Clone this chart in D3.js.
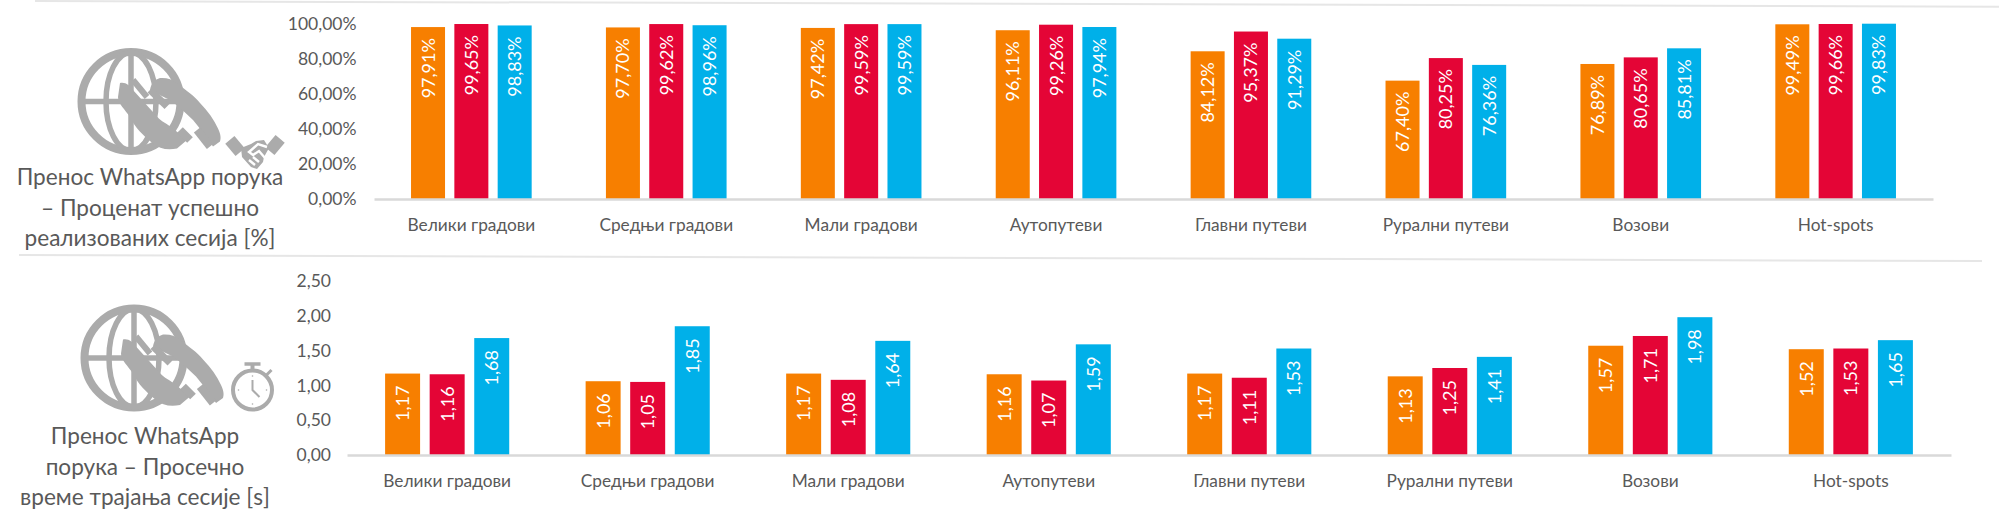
<!DOCTYPE html>
<html>
<head>
<meta charset="utf-8">
<script src="https://cdn.jsdelivr.net/npm/d3@7"></script>
<style>
  html, body { margin: 0; padding: 0; background: #fff; }
  svg { display: block; }
  text { font-family: Lato, "Open Sans", sans-serif; }
</style>
</head>
<body>
<div id="chart"></div>
<script>
const categories = ["Велики градови", "Средњи градови", "Мали градови", "Аутопутеви", "Главни путеви", "Рурални путеви", "Возови", "Hot-spots"];
const seriesNames = ["a", "b", "c"];
const seriesColors = ["#f77f00", "#e40536", "#00b0e9"];

// success rate [%]
const rateA = [97.91, 97.70, 97.42, 96.11, 84.12, 67.40, 76.89, 99.49];
const rateB = [99.65, 99.62, 99.59, 99.26, 95.37, 80.25, 80.65, 99.66];
const rateC = [98.83, 98.96, 99.59, 97.94, 91.29, 76.36, 85.81, 99.83];
const rateTicks = [0, 20, 40, 60, 80, 100];
const rateTitle = ["Пренос WhatsApp порука", "– Проценат успешно", "реализованих сесија [%]"];

// session duration [s]
const timeA = [1.17, 1.06, 1.17, 1.16, 1.17, 1.13, 1.57, 1.52];
const timeB = [1.16, 1.05, 1.08, 1.07, 1.11, 1.25, 1.71, 1.53];
const timeC = [1.68, 1.85, 1.64, 1.59, 1.53, 1.41, 1.98, 1.65];
const timeTicks = [0, 0.5, 1, 1.5, 2, 2.5];
const timeTitle = ["Пренос WhatsApp", "порука – Просечно", "време трајања сесије [s]"];

const width = 1999, height = 525;
const grey = "#595959", iconGrey = "#ababab", ruleGrey = "#e6e6e6";

const svg = d3.select("#chart").append("svg")
  .attr("width", width)
  .attr("height", height);

// comma as decimal separator
const comma = d3.formatLocale({ decimal: ",", thousands: ".", grouping: [3], currency: ["", ""] });
const fmt2 = comma.format(".2f");
const fmtPct = d => fmt2(d) + "%";

function drawPanel(cfg) {
  const x0 = d3.scaleBand().domain(categories).range([cfg.left, cfg.right]).paddingInner(0.381).paddingOuter(0.19);
  const x1 = d3.scaleBand().domain(seriesNames).range([0, x0.bandwidth()]).paddingInner(0.215);
  const y = d3.scaleLinear().domain([0, cfg.max]).range([cfg.bottom, cfg.top]);

  const yAxis = d3.axisLeft(y).tickValues(cfg.ticks).tickFormat(cfg.fmt).tickSize(0).tickPadding(0);
  svg.append("g")
    .attr("transform", `translate(${cfg.tickX},0)`)
    .call(yAxis)
    .call(g => g.select(".domain").remove())
    .selectAll("text")
    .attr("fill", grey)
    .attr("font-size", 17.5);

  cfg.values.forEach((vals, s) => {
    const group = svg.append("g").attr("fill", seriesColors[s]);
    group.selectAll("rect")
      .data(vals)
      .join("rect")
      .attr("x", (d, i) => x0(categories[i]) + x1(seriesNames[s]))
      .attr("y", d => y(d))
      .attr("width", x1.bandwidth())
      .attr("height", d => cfg.bottom - y(d));
    group.selectAll("text")
      .data(vals)
      .join("text")
      .attr("transform", (d, i) => `translate(${x0(categories[i]) + x1(seriesNames[s]) + x1.bandwidth() / 2},${y(d) + cfg.labelGap}) rotate(-90)`)
      .attr("text-anchor", "end")
      .attr("dy", "0.36em")
      .attr("fill", "#fff")
      .attr("font-size", 18)
      .text(cfg.fmt);
  });

  const xAxis = d3.axisBottom(x0).tickSize(0).tickPadding(20);
  svg.append("g")
    .attr("transform", `translate(0,${cfg.bottom})`)
    .call(xAxis)
    .call(g => g.select(".domain").attr("stroke", "#d9d9d9").attr("stroke-width", 2.4))
    .selectAll("text")
    .attr("fill", grey)
    .attr("font-size", 17.3);

  svg.append("text")
    .attr("text-anchor", "middle")
    .attr("fill", grey)
    .attr("font-size", cfg.titleSize)
    .selectAll("tspan")
    .data(cfg.title)
    .join("tspan")
    .attr("x", cfg.titleX)
    .attr("y", (d, i) => cfg.titleY + i * 30.5)
    .text(d => d);
}

function drawGlobe(cx, cy) {
  const g = svg.append("g").attr("transform", `translate(${cx},${cy})`);
  const line = g.append("g").attr("fill", "none").attr("stroke", iconGrey);
  line.append("circle").attr("r", 49.5).attr("stroke-width", 8);
  line.append("ellipse").attr("rx", 25).attr("ry", 49).attr("stroke-width", 5.5);
  line.append("line").attr("y1", -49).attr("y2", 49).attr("stroke-width", 5.5);
  line.append("line").attr("x1", -49).attr("x2", 49).attr("stroke-width", 5.5);

  g.append("path")
    .attr("fill", iconGrey)
    .attr("d", "M-11,-18.5 C-6,-20 -1,-16 2,-11.5 L26,15 C30,20 36,22 42,27 L56,38.5 L46,47 C36,49 28,47 22,42 C12,34 4,26 -1,15.5 C-6,8 -13,2 -13,-4.5 Z");
  g.append("path")
    .attr("fill", iconGrey)
    .attr("d", "M19,-11.5 C20,-18 24,-22 29,-23.5 C36,-24 41,-22 46,-18.5 C55,-11 63,-6 69,1.5 C77,10 83,18 87,27 C90,33 90,37 89,40 L82,45 C76,36 69,27 62,18.5 C54,11 47,4 39,-1.5 C32,-5 25,-8 19,-11.5 Z");

  const teeth = [[2, -21.5, 16, -4.5, 6], [19, -11.5, 36, 5, 7], [49, 28.5, 59, 38.5, 8], [66, 28.5, 79, 45, 8]];
  g.selectAll("line.tooth")
    .data(teeth)
    .join("line")
    .attr("class", "tooth")
    .attr("x1", d => d[0]).attr("y1", d => d[1])
    .attr("x2", d => d[2]).attr("y2", d => d[3])
    .attr("stroke", iconGrey)
    .attr("stroke-width", d => d[4]);
}

function drawHandshake(cx, cy) {
  const g = svg.append("g").attr("transform", `translate(${cx},${cy})`);
  g.append("rect").attr("x", -6).attr("y", -8).attr("width", 12).attr("height", 16).attr("fill", iconGrey)
    .attr("transform", "translate(-20,-8) rotate(-40)");
  g.append("rect").attr("x", -6).attr("y", -8).attr("width", 12).attr("height", 16).attr("fill", iconGrey)
    .attr("transform", "translate(20,-9) rotate(40)");
  g.append("path").attr("fill", iconGrey)
    .attr("d", "M-14,-6 L-4,-10 L1,-13 L9,-14 L14,-6 L9,3 L8,8 L2,15 L-4,13 L-13,3 Z");
  g.append("path").attr("fill", "none").attr("stroke", "#fff").attr("stroke-width", 2.4)
    .attr("d", "M12,-7 L3,-10 L-6,-2 L-2,1 L4,-3 L10,4 M-6,6 L0,11 M-2,3 L4,8");
}

function drawStopwatch(cx, cy) {
  const g = svg.append("g").attr("transform", `translate(${cx},${cy})`)
    .attr("stroke", iconGrey).attr("fill", "none");
  g.append("circle").attr("r", 19.5).attr("stroke-width", 4);
  g.append("line").attr("y1", -25).attr("y2", -20).attr("stroke-width", 4);
  g.append("line").attr("x1", -8).attr("x2", 8).attr("y1", -26).attr("y2", -26).attr("stroke-width", 3.5);
  g.append("line").attr("x1", 14).attr("x2", 19).attr("y1", -15).attr("y2", -20).attr("stroke-width", 3);
  g.append("path").attr("d", "M0,-10 L0,0 L7,7").attr("stroke-width", 2);
  [[0, -14], [14, 0], [0, 14], [-14, 0]].forEach(p => {
    g.append("circle").attr("cx", p[0]).attr("cy", p[1]).attr("r", 0.8).attr("fill", iconGrey).attr("stroke", "none");
  });
}

// slightly slanted rules from the pasted slide
svg.append("line").attr("x1", 35).attr("y1", 1).attr("x2", 1999).attr("y2", 6.7)
  .attr("stroke", ruleGrey).attr("stroke-width", 2);
svg.append("line").attr("x1", 19).attr("y1", 255).attr("x2", 1982).attr("y2", 261)
  .attr("stroke", ruleGrey).attr("stroke-width", 2);

drawGlobe(131, 101.5);
drawHandshake(255, 154);
drawGlobe(134, 358);
drawStopwatch(252.5, 390);

drawPanel({
  values: [rateA, rateB, rateC],
  max: 100, ticks: rateTicks, fmt: fmtPct,
  left: 374, right: 1933, top: 23.4, bottom: 199, tickX: 356.5, labelGap: 11,
  title: rateTitle, titleX: 150, titleY: 185, titleSize: 22.6
});

drawPanel({
  values: [timeA, timeB, timeC],
  max: 2.5, ticks: timeTicks, fmt: fmt2,
  left: 347, right: 1951, top: 281, bottom: 455, tickX: 331, labelGap: 12,
  title: timeTitle, titleX: 145, titleY: 444, titleSize: 22.6
});
</script>
</body>
</html>
